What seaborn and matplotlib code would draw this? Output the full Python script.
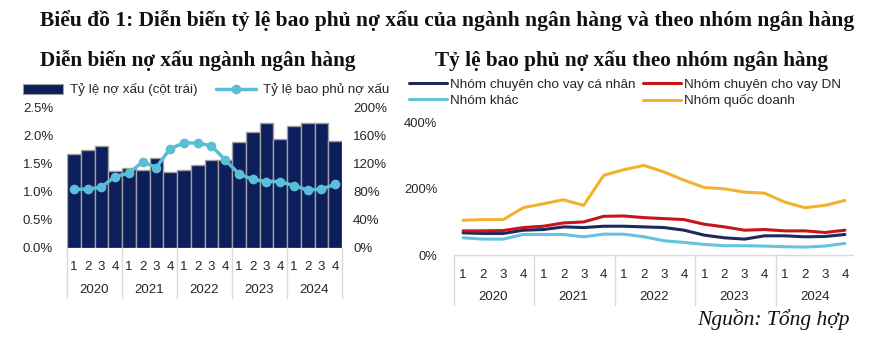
import numpy as np
import pandas as pd
import matplotlib
matplotlib.use('Agg')
import matplotlib.pyplot as plt
import matplotlib.transforms as mtransforms
from matplotlib.patches import Patch
from matplotlib.lines import Line2D
import seaborn as sns

# Dữ liệu
years = ['2020', '2021', '2022', '2023', '2024']
quarters = ['1', '2', '3', '4']

# Tỷ lệ nợ xấu toàn ngành (%)
npl_ratio = [1.68, 1.75, 1.82, 1.37, 1.42, 1.40, 1.61, 1.35, 1.39, 1.48,
             1.58, 1.58, 1.89, 2.08, 2.23, 1.94, 2.18, 2.23, 2.23, 1.91]
# Tỷ lệ bao phủ nợ xấu toàn ngành (%)
coverage = [84, 84, 87, 102, 107, 123, 115, 142, 150, 150,
            146, 126, 106, 98, 95, 95, 89, 83, 84, 91]

# Tỷ lệ bao phủ nợ xấu theo nhóm ngân hàng (%)
grp_canhan = [67, 65, 65, 75, 77, 85, 83, 87, 87, 85,
              83, 75, 60, 52, 48, 58, 58, 55, 56, 62]
grp_dn = [73, 73, 74, 83, 87, 97, 100, 117, 118, 113,
          110, 107, 93, 85, 75, 77, 73, 73, 68, 75]
grp_khac = [52, 48, 48, 62, 62, 62, 55, 63, 63, 55,
            43, 38, 32, 28, 28, 27, 25, 24, 27, 35]
grp_quocdoanh = [105, 107, 107, 143, 155, 167, 150, 241, 258, 271,
                 251, 226, 204, 200, 190, 187, 160, 143, 150, 165]

group_names = ['Nhóm chuyên cho vay cá nhân', 'Nhóm khác',
               'Nhóm chuyên cho vay DN', 'Nhóm quốc doanh']
group_colors = ['#1f2a5c', '#63c3dd', '#c8141b', '#f2b22e']

navy = '#0c1e5b'
cyan = '#5bbdd6'
grey_txt = '#262626'
sep_col = '#d9d9d9'

sns.set_theme(style='white')
plt.rcParams['font.family'] = ['Liberation Sans', 'DejaVu Sans']

pos = list(range(len(npl_ratio)))
q_labels = quarters * len(years)

fig = plt.figure(figsize=(8.86, 3.38), dpi=100)
fig.patch.set_facecolor('white')

# tiêu đề
serif = ['Liberation Serif', 'DejaVu Serif']
fig.text(40 / 886, 1 - 21 / 338,
         'Biểu đồ 1: Diễn biến tỷ lệ bao phủ nợ xấu của ngành ngân hàng và theo nhóm ngân hàng',
         family=serif, weight='bold', fontsize=15.45, ha='left', va='center', color='#111111')
fig.text(40 / 886, 1 - 60.5 / 338, 'Diễn biến nợ xấu ngành ngân hàng',
         family=serif, weight='bold', fontsize=15.3, ha='left', va='center', color='#111111')
fig.text(435 / 886, 1 - 60.5 / 338, 'Tỷ lệ bao phủ nợ xấu theo nhóm ngân hàng',
         family=serif, weight='bold', fontsize=15.3, ha='left', va='center', color='#111111')
fig.text(850 / 886, 1 - 319 / 338, 'Nguồn: Tổng hợp',
         family=serif, style='italic', fontsize=15.5, ha='right', va='center', color='#111111')

# ---------------- biểu đồ trái ----------------
ax1 = fig.add_axes([67 / 886, 90 / 338, 275 / 886, 140 / 338])
df_left = pd.DataFrame({'pos': pos, 'npl': npl_ratio, 'cov': coverage})
sns.barplot(data=df_left, x='pos', y='npl', ax=ax1, color=navy, saturation=1,
            width=1.0, edgecolor='#a0a0a0', linewidth=1)
ax1.set_ylim(0, 2.5)
ax1.set_yticks(np.arange(0, 2.51, 0.5))
ax1.set_yticklabels([f'{v:.1f}%' for v in np.arange(0, 2.51, 0.5)])

ax2 = ax1.twinx()
sns.lineplot(data=df_left, x='pos', y='cov', ax=ax2, color=cyan, lw=2.5,
             marker='o', markersize=7, markeredgewidth=0)
ax2.set_ylim(0, 200)
ax2.set_yticks(range(0, 201, 40))
ax2.set_yticklabels([f'{v}%' for v in range(0, 201, 40)])

for a in (ax1, ax2):
    a.set_xlim(-0.5, 19.5)
    a.set_xlabel('')
    a.set_ylabel('')
    for s in a.spines.values():
        s.set_visible(False)
ax1.set_xticks(pos)
ax1.set_xticklabels(q_labels)
ax1.tick_params(axis='x', length=0, pad=9, labelsize=9.5, labelcolor=grey_txt)
ax1.tick_params(axis='y', length=0, pad=10, labelsize=9.5, labelcolor=grey_txt)
ax2.tick_params(axis='y', length=0, pad=8, labelsize=9.5, labelcolor=grey_txt)

tr1 = mtransforms.blended_transform_factory(ax1.transData, ax1.transAxes)
for i in range(len(years) + 1):
    xb = i * 4 - 0.5
    ax1.plot([xb, xb], [0, -0.357], transform=tr1, color=sep_col, lw=1, clip_on=False)
for i, y in enumerate(years):
    ax1.text(i * 4 + 1.5, -0.3, y, transform=tr1, ha='center', va='center',
             fontsize=9.5, color=grey_txt)

h_left = [Patch(facecolor=navy, edgecolor='#a0a0a0', lw=0.8),
          Line2D([0], [0], color=cyan, lw=2.5, marker='o', markersize=7, markeredgewidth=0)]
fig.legend(h_left, ['Tỷ lệ nợ xấu (cột trái)', 'Tỷ lệ bao phủ nợ xấu'],
           loc='center left', bbox_to_anchor=(11 / 886, 1 - 90 / 338), ncol=2,
           frameon=False, fontsize=9.6, handlelength=3.0, handletextpad=0.5,
           columnspacing=1.4, labelcolor=grey_txt)

# ---------------- biểu đồ phải ----------------
ax3 = fig.add_axes([454 / 886, 83 / 338, 399 / 886, 132.3 / 338])
group_values = [grp_canhan, grp_khac, grp_dn, grp_quocdoanh]
df_right = pd.DataFrame({
    'pos': pos * len(group_names),
    'group': np.repeat(group_names, len(pos)),
    'value': np.concatenate(group_values),
})
plot_order = ['Nhóm quốc doanh', 'Nhóm khác', 'Nhóm chuyên cho vay cá nhân', 'Nhóm chuyên cho vay DN']
palette = dict(zip(group_names, group_colors))
sns.lineplot(data=df_right, x='pos', y='value', hue='group', hue_order=plot_order,
             palette=palette, ax=ax3, lw=2.2, legend=False)
ax3.set_ylim(0, 400)
ax3.set_xlim(-0.45, 19.4)
ax3.set_yticks([0, 200, 400])
ax3.set_yticklabels(['0%', '200%', '400%'])
ax3.set_xticks(pos)
ax3.set_xticklabels(q_labels)
ax3.set_xlabel('')
ax3.set_ylabel('')
for k, s in ax3.spines.items():
    s.set_visible(k == 'bottom')
ax3.spines['bottom'].set_color(sep_col)
ax3.spines['bottom'].set_linewidth(1)
ax3.tick_params(axis='x', length=0, pad=10, labelsize=9.5, labelcolor=grey_txt)
ax3.tick_params(axis='y', length=0, pad=12, labelsize=9.3, labelcolor=grey_txt)

tr3 = mtransforms.blended_transform_factory(ax3.transData, ax3.transAxes)
for i in range(len(years)):
    xb = i * 4 - 0.45
    ax3.plot([xb, xb], [0, -0.379], transform=tr3, color=sep_col, lw=1, clip_on=False)
for i, y in enumerate(years):
    ax3.text(i * 4 + 1.5, -0.32, y, transform=tr3, ha='center', va='center',
             fontsize=9.5, color=grey_txt)

h_right = [Line2D([0], [0], color=c, lw=2.2) for c in group_colors]
fig.legend(h_right, group_names, loc='center left',
           bbox_to_anchor=(397 / 886, 1 - 93 / 338), ncol=2, frameon=False,
           fontsize=9.7, handlelength=2.8, handletextpad=0.2, columnspacing=0.6,
           labelspacing=0.25, labelcolor=grey_txt)

fig.savefig('out.png', dpi=100, facecolor='white')
